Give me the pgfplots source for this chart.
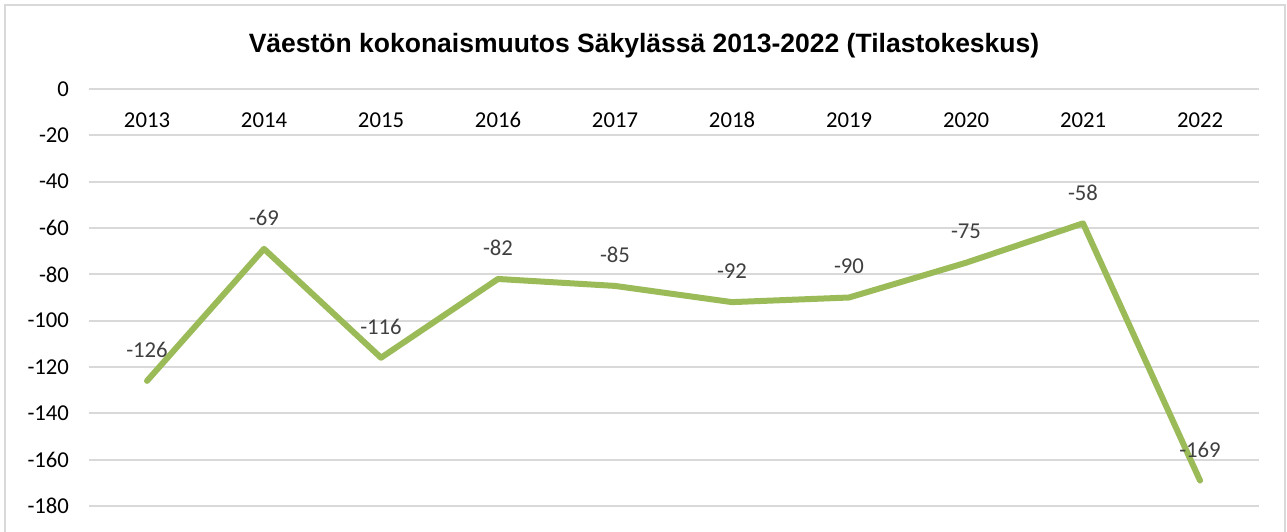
\documentclass[border=0pt]{standalone}
\usepackage{pgfplots}
\pgfplotsset{compat=1.18}
\usepackage{fontspec}
\setmainfont{Carlito}
\newfontfamily\titlefont{Liberation Sans}
\definecolor{grn}{HTML}{9BBB59}
\definecolor{gridc}{HTML}{D9D9D9}
\definecolor{lbl}{HTML}{404040}
\begin{document}
\begin{tikzpicture}
\useasboundingbox (0pt,0pt) rectangle (1287pt,531pt);
\draw[gridc, line width=2pt] (5pt,-10pt) rectangle (1285pt,526pt);
\node[font=\titlefont\bfseries\fontsize{26.5}{30}\selectfont, anchor=base] at (644pt,478pt) {Väestön kokonaismuutos Säkylässä 2013-2022 (Tilastokeskus)};
\begin{axis}[
  at={(88.5pt,25pt)}, anchor=south west,
  scale only axis, width=1170pt, height=417pt,
  xmin=2012.5, xmax=2022.5, ymin=-180, ymax=0,
  axis line style={draw=none},
  tick style={draw=none},
  major tick length=0pt,
  ymajorgrids,
  grid style={gridc, line width=2pt},
  ytick={-180,-160,-140,-120,-100,-80,-60,-40,-20,0},
  yticklabels={-180,-160,-140,-120,-100,-80,-60,-40,-20,0},
  xtick={2013,2014,2015,2016,2017,2018,2019,2020,2021,2022},
  xticklabels={2013,2014,2015,2016,2017,2018,2019,2020,2021,2022},
  xticklabel pos=upper,
  xticklabel style={anchor=center, yshift=-31pt},
  yticklabel style={anchor=east, xshift=-16pt},
  tick label style={font=\fontsize{22.7}{27}\selectfont, text=black},
  clip=false,
]
\addplot[grn, line width=6pt, line cap=round, line join=round,
  point meta=explicit symbolic,
  nodes near coords={\pgfplotspointmeta},
  every node near coord/.append style={font=\fontsize{22.7}{27}\selectfont, text=lbl, anchor=center, yshift=31pt}]
  table[x=x, y=y, meta=l] {
x y l
2013 -126 -126
2014 -69 -69
2015 -116 -116
2016 -82 -82
2017 -85 -85
2018 -92 -92
2019 -90 -90
2020 -75 -75
2021 -58 -58
2022 -169 -169
};
\end{axis}
\end{tikzpicture}
\end{document}
